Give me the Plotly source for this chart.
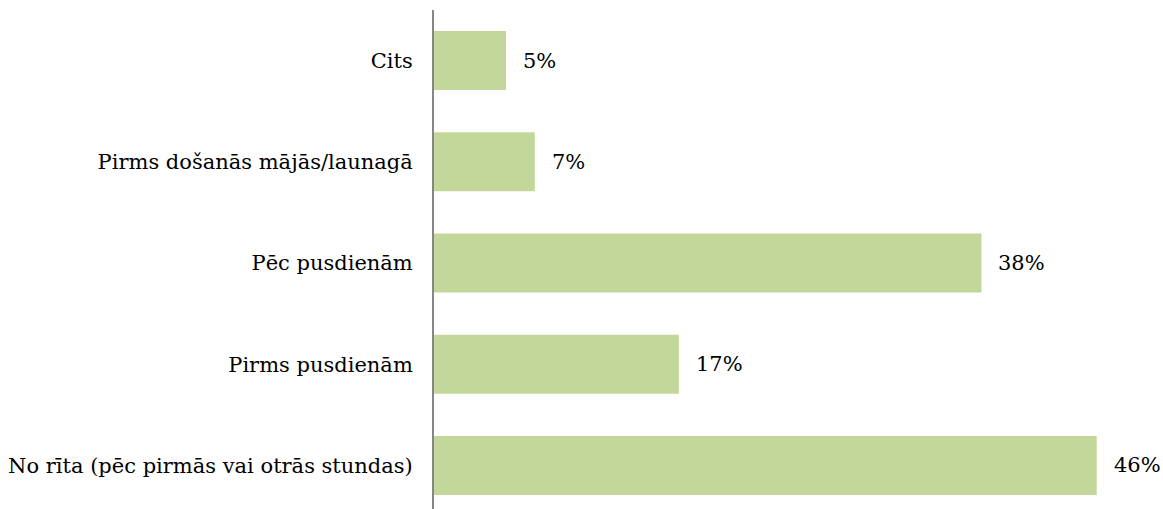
import plotly.graph_objects as go

# Survey answers, bottom to top
categories = [
    "No rīta (pēc pirmās vai otrās stundas)",
    "Pirms pusdienām",
    "Pēc pusdienām",
    "Pirms došanās mājās/launagā",
    "Cits",
]
shares = [46, 17, 38, 7, 5]
value_labels = [f"{v}%" for v in shares]

FONT = "DejaVu Serif"
SIZE = 21

fig = go.Figure(
    go.Bar(
        x=shares,
        y=categories,
        orientation="h",
        marker=dict(color="#c4d79b", line=dict(width=0)),
        hoverinfo="skip",
    )
)

# value labels to the right of each bar
for cat, v, lab in zip(categories, shares, value_labels):
    fig.add_annotation(
        x=v, y=cat, text=lab, showarrow=False,
        xanchor="left", yanchor="middle", xshift=15,
        font=dict(family=FONT, size=SIZE, color="#000000"),
    )

fig.update_layout(
    width=1163,
    height=509,
    margin=dict(l=434, r=0, t=10, b=0),
    paper_bgcolor="white",
    plot_bgcolor="white",
    bargap=0.417,
    showlegend=False,
    font=dict(family=FONT, size=SIZE, color="#000000"),
)
fig.update_xaxes(
    range=[0, 50.6], visible=False, showgrid=False, zeroline=False,
)
fig.update_yaxes(
    range=[-0.43, 4.5], automargin=False,
    showline=True, linecolor="#868686", linewidth=2,
    showgrid=False, zeroline=False, ticks="",
    ticklabelstandoff=15,
    tickfont=dict(family=FONT, size=SIZE, color="#000000"),
)

fig.write_html("out.html")
